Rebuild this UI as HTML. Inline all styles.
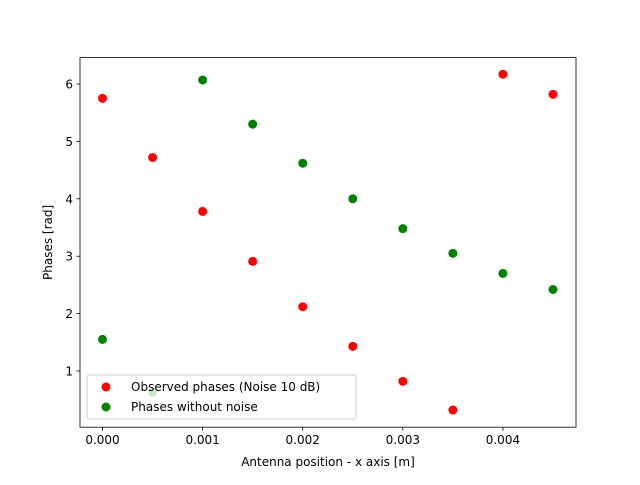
<!DOCTYPE html>
<html><head><meta charset="utf-8"><style>
body{margin:0;background:#fff;}
svg text{font-family:"DejaVu Sans","Liberation Sans",sans-serif;font-size:12px;fill:#000;}
</style></head><body>
<svg id="chart" width="640" height="480" xmlns="http://www.w3.org/2000/svg">
<rect width="640" height="480" fill="#fff"/>
<g id="marks"></g>
<g id="axes"></g>
</svg>
<script>
const xValues=[0,0.0005,0.001,0.0015,0.002,0.0025,0.003,0.0035,0.004,0.0045];
const observedPhases=[5.75,4.72,3.78,2.91,2.12,1.43,0.82,0.32,6.17,5.82];
const noiselessPhases=[1.55,0.63,6.07,5.30,4.62,4.00,3.48,3.05,2.70,2.42];
const xTicks=[0,0.001,0.002,0.003,0.004];
const xTickLabels=["0.000","0.001","0.002","0.003","0.004"];
const yTicks=[1,2,3,4,5,6];
const yTickLabels=["1","2","3","4","5","6"];

const L=80,R=576,T=57.6,B=427.2;
const xMin=-0.000225,xMax=0.00473,yMin=0.021,yMax=6.46;
const sx=v=>L+(v-xMin)/(xMax-xMin)*(R-L);
const sy=v=>B-(v-yMin)/(yMax-yMin)*(B-T);
const NS="http://www.w3.org/2000/svg";
function mk(tag,attrs,parent,text){const e=document.createElementNS(NS,tag);for(const k in attrs)e.setAttribute(k,attrs[k]);if(text!==undefined)e.textContent=text;parent.appendChild(e);return e;}
const marks=document.getElementById('marks'),axes=document.getElementById('axes');
xValues.forEach((x,i)=>{
  const c=mk('circle',{cx:sx(x),cy:sy(observedPhases[i]),r:4.5,fill:'#ff0000'},marks);
  
  
});
xValues.forEach((x,i)=>{
  const c=mk('circle',{cx:sx(x),cy:sy(noiselessPhases[i]),r:4.5,fill:'#008000'},marks);
  
  
});
const frame=mk('rect',{x:L,y:T,width:R-L,height:B-T,fill:'none',stroke:'#000','stroke-width':0.8},axes);


xTicks.forEach((t,i)=>{
  mk('line',{x1:sx(t),x2:sx(t),y1:B,y2:B+3.5,stroke:'#000','stroke-width':0.8},axes);
  const tx=mk('text',{x:sx(t),y:B+17,'text-anchor':'middle'},axes,xTickLabels[i]);
  
  
});
yTicks.forEach((t,i)=>{
  mk('line',{x1:L-3.5,x2:L,y1:sy(t),y2:sy(t),stroke:'#000','stroke-width':0.8},axes);
  const tx=mk('text',{x:L-7,y:sy(t)+4.5,'text-anchor':'end'},axes,yTickLabels[i]);
  
  
});
const xt=mk('text',{x:(L+R)/2,y:466,'text-anchor':'middle'},axes,'Antenna position - x axis [m]');


const yt=mk('text',{x:0,y:0,'text-anchor':'middle',transform:`translate(52,${(T+B)/2}) rotate(-90)`},axes,'Phases [rad]');


const lg=mk('g',{},axes);


mk('rect',{x:87,y:375,width:269,height:44,rx:2,fill:'#fff','fill-opacity':0.8,stroke:'#ccc','stroke-width':1},lg);
const e1=mk('g',{},lg);


mk('circle',{cx:106,cy:387,r:4.5,fill:'#ff0000'},e1);
mk('text',{x:131,y:391},e1,'Observed phases (Noise 10 dB)');
const e2=mk('g',{},lg);


mk('circle',{cx:106,cy:407,r:4.5,fill:'#008000'},e2);
mk('text',{x:131,y:411},e2,'Phases without noise');
</script>
</body></html>
